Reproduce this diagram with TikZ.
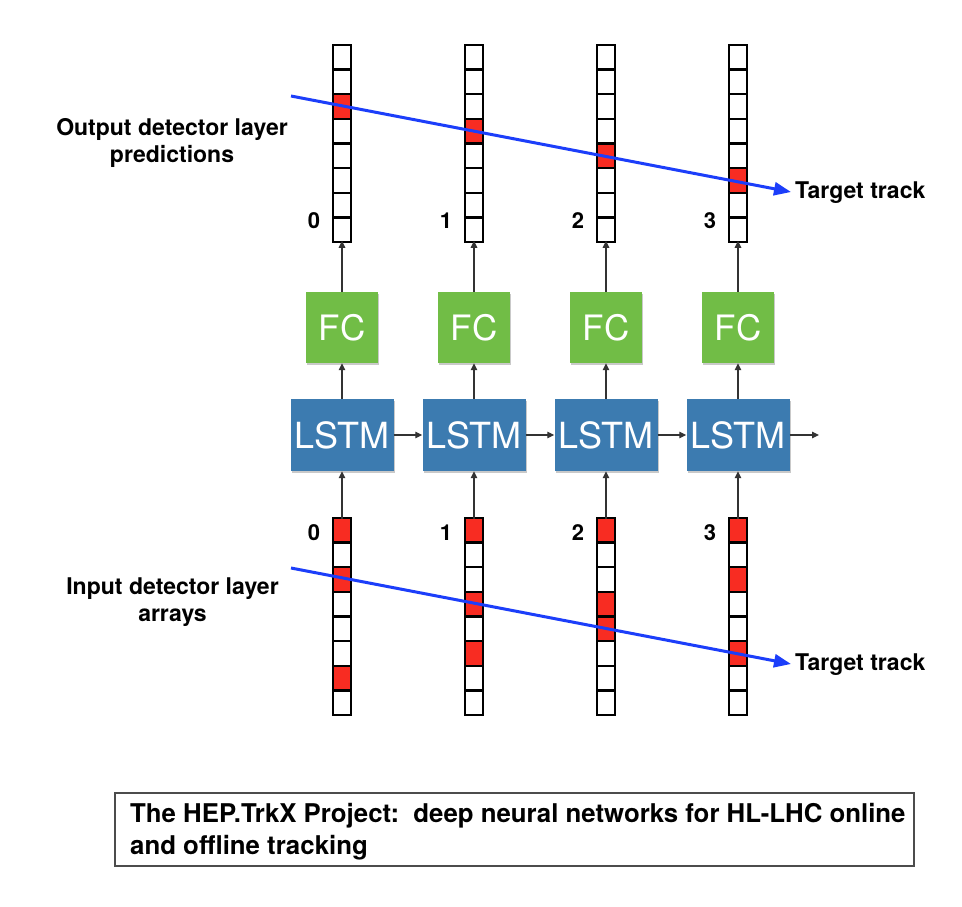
\documentclass[tikz,border=0pt]{standalone}
\usepackage{fontspec}
\setmainfont{TeX Gyre Heros}
\usetikzlibrary{arrows.meta,shadows}
\definecolor{fcgreen}{RGB}{113,189,70}
\definecolor{lstmblue}{RGB}{60,123,176}
\definecolor{cellred}{RGB}{248,44,34}
\definecolor{trackblue}{RGB}{28,62,250}
\begin{document}
\begin{tikzpicture}[x=1pt,y=-1pt,
  cell/.style={draw=black, line width=2.4pt, fill=white, minimum width=18pt, minimum height=24.625pt, inner sep=0pt, outer sep=0pt},
  hit/.style={cell, fill=cellred},
  boxshadow/.style={drop shadow={shadow xshift=1pt, shadow yshift=-1.5pt, opacity=0.35, fill=black!60}},
  fcbox/.style={fill=fcgreen, minimum width=72pt, minimum height=71pt, text=white, inner sep=0pt, font=\fontsize{35}{40}\selectfont, boxshadow},
  lstmbox/.style={fill=lstmblue, minimum width=103pt, minimum height=72pt, text=white, inner sep=0pt, font=\fontsize{36}{40}\selectfont, boxshadow},
  link/.style={draw=black!80, line width=1.2pt, -{Triangle[length=7pt,width=6.5pt]}},
  track/.style={draw=trackblue, line width=3pt, -{Triangle[length=17pt,width=13pt]}},
  lbl/.style={font=\fontsize{23}{27.5}\selectfont\bfseries, align=center, inner sep=0pt},
  idx/.style={font=\fontsize{22}{24}\selectfont\bfseries, inner sep=0pt},
  capbox/.style={draw=black!70, line width=1.3pt, fill=white, minimum width=799pt, minimum height=73pt, inner sep=0pt},
  captxt/.style={font=\fontsize{25.8}{32}\selectfont\bfseries, align=left, inner sep=0pt}
]
\useasboundingbox (0,0) rectangle (962,906);
\fill[white] (0,0) rectangle (962,906);

% output and input arrays
\foreach \c in {0,...,3}{
  \foreach \r in {0,...,7}{
    \node[cell] (o\c-\r) at ({342+132*\c},{45+24.625*\r+12.3125}) {};
    \node[cell] (i\c-\r) at ({342+132*\c},{518+24.625*\r+12.3125}) {};
  }
}
% hits in output arrays
\foreach \c/\r in {0/2,1/3,2/4,3/5}{
  \node[hit] (oh\c-\r) at (o\c-\r.center) {};
}
% hits in input arrays
\foreach \c/\r in {0/0,0/2,0/6,1/0,1/3,1/5,2/0,2/3,2/4,3/0,3/2,3/5}{
  \node[hit] (ih\c-\r) at (i\c-\r.center) {};
}

% index labels
\foreach \c in {0,...,3}{
  \node[idx] (on\c) at ({314+132*\c},221) {\c};
  \node[idx] (in\c) at ({314+132*\c},533) {\c};
}

% FC and LSTM boxes
\foreach \c in {0,...,3}{
  \node[fcbox] (fc\c) at ({342+132*\c},327.5) {FC};
  \node[lstmbox] (lstm\c) at ({342+132*\c},435) {LSTM};
}

% vertical connectors
\foreach \c in {0,...,3}{
  \draw[link] (fc\c.north) -- ([yshift=1.2pt]o\c-7.south);
  \draw[link] (lstm\c.north) -- (fc\c.south);
  \draw[link] ([yshift=-1.2pt]i\c-0.north) -- (lstm\c.south);
}
% recurrent connectors
\draw[link] (lstm0.east) -- (lstm1.west);
\draw[link] (lstm1.east) -- (lstm2.west);
\draw[link] (lstm2.east) -- (lstm3.west);
\coordinate (lstmout) at (819,435);
\draw[link] (lstm3.east) -- (lstmout);

% target tracks
\coordinate (t1s) at (291,96);
\coordinate (t1e) at (791,192);
\draw[track] (t1s) -- (t1e);
\coordinate (t2s) at (291,568);
\coordinate (t2e) at (791,664);
\draw[track] (t2s) -- (t2e);

% labels
\node[lbl] (outlbl) at (172,143) {Output detector layer\\predictions};
\node[lbl] (inlbl) at (172.5,602) {Input detector layer\\arrays};
\node[lbl, anchor=west] (tt1) at (795,193) {Target track};
\node[lbl, anchor=west] (tt2) at (795,665) {Target track};

% caption box
\node[capbox] (cap) at (514.5,829.5) {};
\node[captxt, anchor=north west] (captext) at (130,803) {The HEP.TrkX Project:\ \ deep neural networks for HL-LHC online\\and offline tracking};
\end{tikzpicture}
\end{document}
